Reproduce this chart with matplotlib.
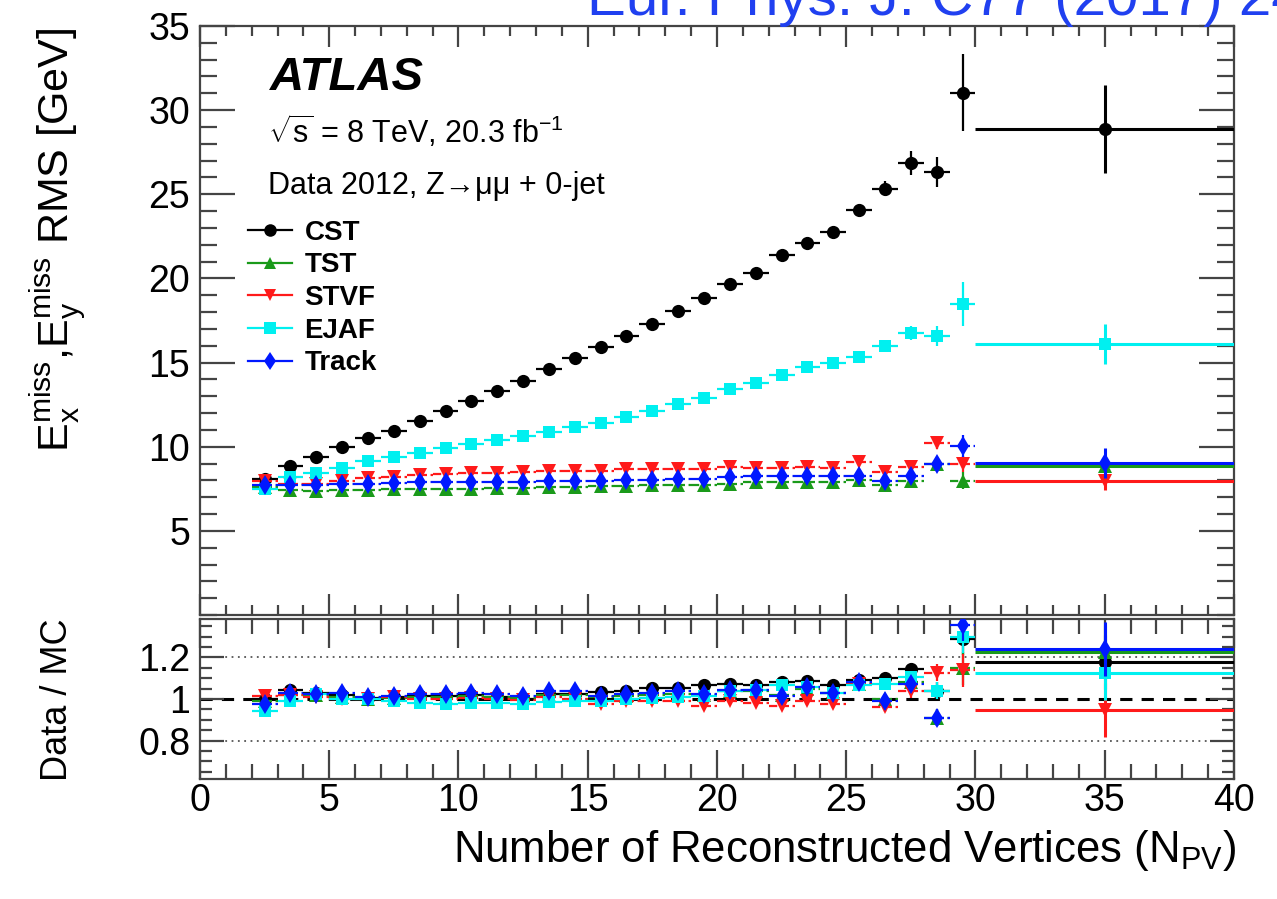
import numpy as np
import matplotlib
matplotlib.use("Agg")
import matplotlib.pyplot as plt
from matplotlib.lines import Line2D
from matplotlib.ticker import MultipleLocator, FormatStrFormatter

plt.rcParams['font.family'] = ['Liberation Sans', 'DejaVu Sans']
plt.rcParams['mathtext.fontset'] = 'custom'
plt.rcParams['mathtext.rm'] = 'Liberation Sans'
plt.rcParams['mathtext.it'] = 'Liberation Sans:italic'
plt.rcParams['mathtext.bf'] = 'Liberation Sans:bold'

# N_PV bin edges (last bin is the wide 30-40 overflow bin)
bin_edges = [2, 3, 4, 5, 6, 7, 8, 9, 10, 11, 12, 13, 14, 15, 16, 17, 18, 19, 20,
             21, 22, 23, 24, 25, 26, 27, 28, 29, 30, 40]

# RMS of Ex/Ey miss [GeV]
rms_cst = [8.1, 8.87, 9.4, 10.0, 10.5, 10.95, 11.5, 12.1, 12.7, 13.3, 13.9, 14.6,
           15.25, 15.9, 16.55, 17.3, 18.05, 18.85, 19.65, 20.35, 21.37, 22.12, 22.75,
           24.06, 25.33, 26.86, 26.33, 31.04, 28.88]
rms_tst = [7.6, 7.44, 7.36, 7.44, 7.44, 7.5, 7.5, 7.5, 7.5, 7.56, 7.56, 7.6, 7.6,
           7.64, 7.64, 7.7, 7.7, 7.73, 7.79, 7.88, 7.88, 7.88, 7.88, 8.0, 7.74, 7.98,
           8.95, 7.98, 8.87]
rms_stvf = [7.95, 7.8, 7.8, 7.99, 8.14, 8.22, 8.32, 8.38, 8.42, 8.46, 8.52, 8.57,
            8.57, 8.54, 8.67, 8.67, 8.67, 8.65, 8.79, 8.73, 8.73, 8.81, 8.71, 9.07,
            8.48, 8.77, 10.2, 8.97, 7.95]
rms_ejaf = [7.5, 8.18, 8.42, 8.73, 9.16, 9.39, 9.65, 9.9, 10.14, 10.4, 10.65, 10.9,
            11.15, 11.42, 11.76, 12.12, 12.52, 12.92, 13.4, 13.78, 14.28, 14.75, 14.95,
            15.35, 16.0, 16.75, 16.6, 18.5, 16.1]
rms_track = [7.75, 7.75, 7.7, 7.79, 7.79, 7.83, 7.93, 7.93, 7.93, 7.93, 7.93, 7.99,
             7.99, 7.99, 8.05, 8.05, 8.09, 8.09, 8.18, 8.28, 8.28, 8.28, 8.24, 8.24,
             7.94, 8.28, 8.97, 10.06, 9.03]

err_cst = [0.12, 0.1, 0.1, 0.1, 0.1, 0.1, 0.1, 0.1, 0.1, 0.1, 0.1, 0.12, 0.12, 0.12,
           0.14, 0.15, 0.16, 0.18, 0.2, 0.22, 0.25, 0.28, 0.3, 0.35, 0.45, 0.7, 0.9,
           2.3, 2.6]
err_tst = [0.1, 0.08, 0.08, 0.08, 0.08, 0.08, 0.08, 0.08, 0.08, 0.08, 0.08, 0.08,
           0.08, 0.08, 0.08, 0.1, 0.1, 0.1, 0.1, 0.12, 0.12, 0.14, 0.15, 0.17, 0.2,
           0.25, 0.35, 0.5, 0.5]
err_stvf = [0.1, 0.08, 0.08, 0.08, 0.08, 0.08, 0.08, 0.08, 0.08, 0.08, 0.08, 0.08,
            0.08, 0.08, 0.08, 0.1, 0.1, 0.1, 0.1, 0.12, 0.12, 0.14, 0.15, 0.17, 0.2,
            0.25, 0.35, 0.5, 0.55]
err_ejaf = [0.1, 0.1, 0.1, 0.1, 0.1, 0.1, 0.1, 0.1, 0.1, 0.1, 0.1, 0.1, 0.1, 0.12,
            0.12, 0.12, 0.14, 0.15, 0.16, 0.18, 0.2, 0.22, 0.25, 0.28, 0.3, 0.4, 0.6,
            1.3, 1.2]
err_track = [0.1, 0.08, 0.08, 0.08, 0.08, 0.08, 0.08, 0.08, 0.08, 0.08, 0.08, 0.08,
             0.08, 0.08, 0.08, 0.1, 0.1, 0.1, 0.1, 0.12, 0.12, 0.14, 0.15, 0.17, 0.2,
             0.25, 0.35, 0.65, 0.9]

# Data / MC ratios
ratio_cst = [1.0, 1.045, 1.03, 1.02, 1.005, 1.01, 1.015, 1.015, 1.02, 1.01, 1.0,
             1.025, 1.025, 1.035, 1.04, 1.052, 1.052, 1.065, 1.073, 1.068, 1.08, 1.085,
             1.065, 1.09, 1.1, 1.143, 1.04, 1.29, 1.18]
ratio_tst = [0.99, 1.02, 1.02, 1.01, 1.0, 1.005, 1.01, 1.01, 1.015, 1.01, 1.005, 1.02,
             1.02, 1.01, 1.015, 1.02, 1.025, 1.02, 1.04, 1.04, 1.02, 1.05, 1.03, 1.07,
             1.0, 1.08, 0.91, 1.148, 1.225]
ratio_stvf = [1.016, 1.02, 1.01, 1.0, 1.0, 1.01, 1.0, 1.0, 1.005, 1.0, 0.995, 1.01,
              1.0, 0.978, 0.99, 0.99, 0.99, 0.967, 0.99, 0.98, 0.967, 0.99, 0.976,
              1.07, 0.96, 1.036, 1.127, 1.138, 0.947]
ratio_ejaf = [0.943, 0.99, 1.024, 1.0, 1.0, 0.99, 0.98, 0.976, 0.98, 0.98, 0.976,
              0.987, 0.99, 0.99, 1.0, 1.003, 1.008, 1.016, 1.036, 1.045, 1.065, 1.057,
              1.03, 1.065, 1.073, 1.106, 1.04, 1.3, 1.127]
ratio_track = [0.976, 1.03, 1.024, 1.03, 1.008, 1.016, 1.024, 1.024, 1.03, 1.024,
               1.016, 1.036, 1.036, 1.016, 1.024, 1.03, 1.036, 1.024, 1.045, 1.045,
               1.016, 1.057, 1.03, 1.08, 0.99, 1.073, 0.91, 1.358, 1.24]

ratio_err = [0.015, 0.01, 0.01, 0.01, 0.01, 0.01, 0.01, 0.01, 0.01, 0.01, 0.01, 0.01,
             0.01, 0.01, 0.012, 0.012, 0.012, 0.014, 0.014, 0.015, 0.016, 0.018, 0.02,
             0.022, 0.025, 0.03, 0.04, 0.08, 0.13]

labels = ['CST', 'TST', 'STVF', 'EJAF', 'Track']
colors = ['black', '#1a9a1a', '#ff1a1a', '#00f0f0', '#0018ff']
markers = ['o', '^', 'v', 's', 'd']
msizes = [9.5, 9.5, 9.5, 9, 10]
bar_styles = ['-', '--', '--', '-', '--']
rms_all = [rms_cst, rms_tst, rms_stvf, rms_ejaf, rms_track]
err_all = [err_cst, err_tst, err_stvf, err_ejaf, err_track]
ratio_all = [ratio_cst, ratio_tst, ratio_stvf, ratio_ejaf, ratio_track]

edges = np.array(bin_edges, dtype=float)
centres = 0.5 * (edges[:-1] + edges[1:])
halfw = 0.5 * np.diff(edges)

fig = plt.figure(figsize=(12.77, 8.99), dpi=100)
ax1 = fig.add_axes([0.1566, 0.3159, 0.8097, 0.6552])
ax2 = fig.add_axes([0.1566, 0.1335, 0.8097, 0.1780])

frame_col = '#444444'


def draw_series(ax, y, yerr, color, marker, ms, bstyle, z):
    # narrow bins
    eb = ax.errorbar(centres[:-1], y[:-1], xerr=halfw[:-1], yerr=yerr[:-1],
                     fmt=marker, color=color, ms=ms, mew=0, elinewidth=1.6,
                     capsize=0, zorder=z)
    eb[2][0].set_linestyle(bstyle)
    # wide 30-40 bin
    ax.errorbar(centres[-1:], y[-1:], xerr=halfw[-1:], yerr=yerr[-1:],
                fmt=marker, color=color, ms=ms, mew=0, elinewidth=2.2,
                capsize=0, zorder=z)


ax2.axhline(1.0, color='black', ls=(0, (4, 3)), lw=2.2, zorder=1)
ax2.axhline(1.2, color='#555555', ls=(0, (1, 2.5)), lw=1.3, zorder=1)
ax2.axhline(0.8, color='#555555', ls=(0, (1, 2.5)), lw=1.3, zorder=1)

for i in range(5):
    draw_series(ax1, np.array(rms_all[i]), np.array(err_all[i]), colors[i],
                markers[i], msizes[i], bar_styles[i], 3 + i)
    draw_series(ax2, np.array(ratio_all[i]), np.array(ratio_err), colors[i],
                markers[i], msizes[i], bar_styles[i], 3 + i)

ax1.set_xlim(0, 40)
ax1.set_ylim(0, 35)
ax2.set_xlim(0, 40)
ax2.set_ylim(0.615, 1.385)

for ax in (ax1, ax2):
    for sp in ax.spines.values():
        sp.set_linewidth(1.6)
        sp.set_color(frame_col)
    ax.xaxis.set_major_locator(MultipleLocator(5))
    ax.xaxis.set_minor_locator(MultipleLocator(1))
    ax.tick_params(which='both', direction='in', top=True, right=True,
                   color=frame_col, width=1.6, labelsize=27)

ax1.yaxis.set_major_locator(MultipleLocator(5))
ax1.yaxis.set_minor_locator(MultipleLocator(1))
ax1.tick_params(axis='x', which='major', length=15)
ax1.tick_params(axis='x', which='minor', length=7)
ax1.tick_params(axis='y', which='major', length=25, pad=7)
ax1.tick_params(axis='y', which='minor', length=12)
ax1.tick_params(axis='x', labelbottom=False)
ax1.set_yticks([5, 10, 15, 20, 25, 30, 35])

ax2.yaxis.set_major_locator(MultipleLocator(0.2))
ax2.yaxis.set_minor_locator(MultipleLocator(0.05))
ax2.yaxis.set_major_formatter(FormatStrFormatter('%g'))
ax2.tick_params(axis='x', which='major', length=21, pad=3)
ax2.tick_params(axis='x', which='minor', length=11)
ax2.tick_params(axis='y', which='major', length=17, pad=7)
ax2.tick_params(axis='y', which='minor', length=8.5)

# axis titles
fig.text(58 / 1277, 1 - 28 / 899,
         r'$\mathrm{E_{x}^{miss}{,}E_{y}^{miss}}$ RMS [GeV]',
         rotation=90, ha='center', va='top', fontsize=31)
fig.text(58 / 1277, 1 - 700 / 899, 'Data / MC', rotation=90, ha='center',
         va='center', fontsize=26)
fig.text(1236 / 1277, 1 - 862 / 899,
         r'Number of Reconstructed Vertices (N$_{\mathrm{PV}}$)',
         ha='right', va='baseline', fontsize=31.5)

# ATLAS labels
fig.text(270 / 1277, 1 - 90 / 899, 'ATLAS', fontsize=34, fontweight='bold',
         fontstyle='italic', va='baseline')
fig.text(268 / 1277, 1 - 143 / 899,
         r'$\sqrt{\mathrm{s}}$ = 8 TeV, 20.3 fb$^{\mathrm{-1}}$',
         fontsize=22, va='baseline')
fig.text(268 / 1277, 1 - 194 / 899, 'Data 2012, Z→μμ + 0-jet', fontsize=22,
         va='baseline')

fig.text(587 / 1277, 1 - 15 / 899, 'Eur. Phys. J. C77 (2017) 241',
         color='#2040f0', fontsize=42, va='baseline')

handles = [Line2D([], [], color=colors[i], marker=markers[i], ms=msizes[i] * 0.95,
                  mew=0, lw=1.6) for i in range(5)]
ax1.legend(handles, labels, loc='upper left', bbox_to_anchor=(0.046, 0.671),
           frameon=False, prop={'weight': 'bold', 'size': 20}, handlelength=1.6,
           handletextpad=0.45, labelspacing=0.24, borderpad=0, borderaxespad=0)

fig.savefig('out.png', dpi=100)
